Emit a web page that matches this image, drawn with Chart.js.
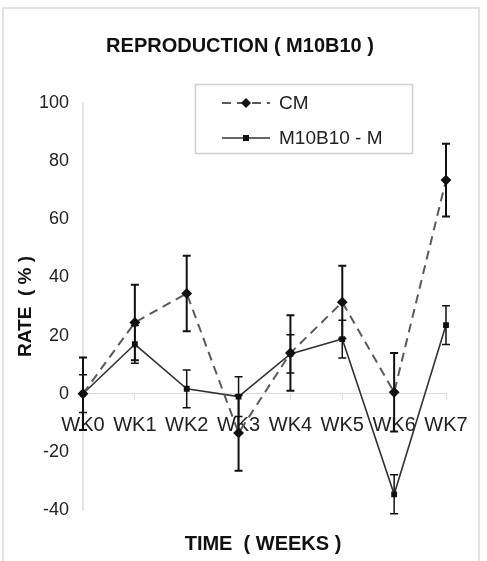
<!DOCTYPE html>
<html>
<head>
<meta charset="utf-8">
<script src="https://cdn.jsdelivr.net/npm/chart.js@4"></script>
<style>
  body { margin: 0; background: #fff; }
  #chart { display: block; }
</style>
</head>
<body>
<canvas id="chart" width="487" height="561"></canvas>
<script>
// data
const weeks = ['WK0', 'WK1', 'WK2', 'WK3', 'WK4', 'WK5', 'WK6', 'WK7'];
const cmRate = [0, 24.5, 34.5, -13.5, 14, 31.5, 0.5, 73.5];
const cmError = [12.5, 13, 13, 13, 13, 12.5, 13.5, 12.5];
const mRate = [0, 17, 1.7, -1, 13.7, 18.8, -34.6, 23.6];
const mError = [6.5, 6.5, 6.5, 6.8, 6.6, 6.5, 6.7, 6.7];
const yTicks = [-40, -20, 0, 20, 40, 60, 80, 100];

const chartTitle = 'REPRODUCTION ( M10B10 )';
const xTitle = 'TIME  ( WEEKS )';

const FONT = "'Liberation Sans', Arial, sans-serif";

// vertical error bars with caps
const errorBars = {
    id: 'errorBars',
    afterDatasetsDraw(chart) {
        const ctx = chart.ctx;
        const x = chart.scales.x;
        const y = chart.scales.y;
        chart.data.datasets.forEach((ds) => {
            if (!ds.errors) return;
            ctx.save();
            ctx.strokeStyle = '#111';
            ctx.lineWidth = ds.errorWidth || 1.5;
            ds.data.forEach((v, i) => {
                const px = x.getPixelForValue(i);
                const top = y.getPixelForValue(v + ds.errors[i]);
                const bot = y.getPixelForValue(v - ds.errors[i]);
                ctx.beginPath();
                ctx.moveTo(px, top); ctx.lineTo(px, bot);
                ctx.moveTo(px - 4, top); ctx.lineTo(px + 4, top);
                ctx.moveTo(px - 4, bot); ctx.lineTo(px + 4, bot);
                ctx.stroke();
            });
            ctx.restore();
        });
    }
};

// frame, titles and boxed legend with line + marker samples
const decorations = {
    id: 'decorations',
    beforeDraw(chart) {
        const ctx = chart.ctx;
        ctx.save();
        ctx.strokeStyle = '#e2e2e2';
        ctx.lineWidth = 2;
        ctx.strokeRect(3, 8, 476, 560);
        ctx.restore();
    },
    afterDraw(chart) {
        const ctx = chart.ctx;
        ctx.save();
        ctx.fillStyle = '#111';
        ctx.textAlign = 'center';
        ctx.textBaseline = 'middle';
        ctx.font = 'bold 20px ' + FONT;
        ctx.fillText(chartTitle, 240, 46);
        ctx.fillText(xTitle, 263, 544);

        ctx.textAlign = 'left';
        ctx.strokeStyle = '#d0d0d0';
        ctx.lineWidth = 1.5;
        ctx.strokeRect(195.5, 84.5, 217, 69);
        ctx.font = '19px ' + FONT;
        chart.data.datasets.forEach((ds, i) => {
            const ly = 103 + i * 35;
            ctx.strokeStyle = ds.borderColor;
            ctx.lineWidth = ds.borderWidth;
            ctx.setLineDash(ds.borderDash || []);
            ctx.beginPath();
            ctx.moveTo(222, ly); ctx.lineTo(270, ly);
            ctx.stroke();
            ctx.setLineDash([]);
            ctx.fillStyle = '#111';
            if (ds.pointStyle === 'rectRot') {
                ctx.beginPath();
                ctx.moveTo(246, ly - 5); ctx.lineTo(251, ly);
                ctx.lineTo(246, ly + 5); ctx.lineTo(241, ly);
                ctx.closePath(); ctx.fill();
            } else {
                ctx.fillRect(243, ly - 3, 6, 6);
            }
            ctx.fillStyle = '#222';
            ctx.fillText(ds.label, 279, ly + 1);
        });
        ctx.restore();
    }
};

new Chart(document.getElementById('chart'), {
    type: 'line',
    data: {
        labels: weeks,
        datasets: [{
            label: 'CM',
            data: cmRate,
            errors: cmError,
            errorWidth: 2,
            borderColor: '#5a5a5a',
            borderWidth: 2,
            borderDash: [9, 6],
            pointStyle: 'rectRot',
            pointRadius: 4,
            pointBackgroundColor: '#111',
            pointBorderColor: '#111',
            tension: 0,
            fill: false
        }, {
            label: 'M10B10 - M',
            data: mRate,
            errors: mError,
            errorWidth: 1.5,
            borderColor: '#333',
            borderWidth: 1.6,
            pointStyle: 'rect',
            pointRadius: 3,
            pointBackgroundColor: '#111',
            pointBorderColor: '#111',
            tension: 0,
            fill: false
        }]
    },
    options: {
        responsive: false,
        animation: false,
        devicePixelRatio: 1,
        layout: { padding: { left: 10, right: 41, top: 103, bottom: 51 } },
        plugins: {
            legend: { display: false },
            tooltip: { enabled: false },
            title: { display: false }
        },
        scales: {
            x: {
                type: 'category',
                position: { y: 0 },
                offset: false,
                border: { display: true, color: '#ddd', dash: [6, 3] },
                grid: { drawOnChartArea: false, drawTicks: true, tickLength: 6, color: '#ddd' },
                ticks: {
                    color: '#222',
                    padding: 14,
                    autoSkip: false,
                    maxRotation: 0,
                    font: { family: FONT, size: 20 }
                }
            },
            y: {
                min: -40,
                max: 100,
                afterFit(scale) { scale.width = 73; },
                afterBuildTicks(scale) { scale.ticks = yTicks.map(v => ({ value: v })); },
                border: { display: true, color: '#e4e4e4', width: 2 },
                grid: { display: false },
                title: {
                    display: true,
                    text: 'RATE  ( % )',
                    color: '#111',
                    font: { family: FONT, size: 19, weight: 'bold' },
                    padding: { top: 4, bottom: 4 }
                },
                ticks: {
                    color: '#222',
                    padding: 6,
                    font: { family: FONT, size: 18 }
                }
            }
        }
    },
    plugins: [errorBars, decorations]
});
</script>
</body>
</html>
